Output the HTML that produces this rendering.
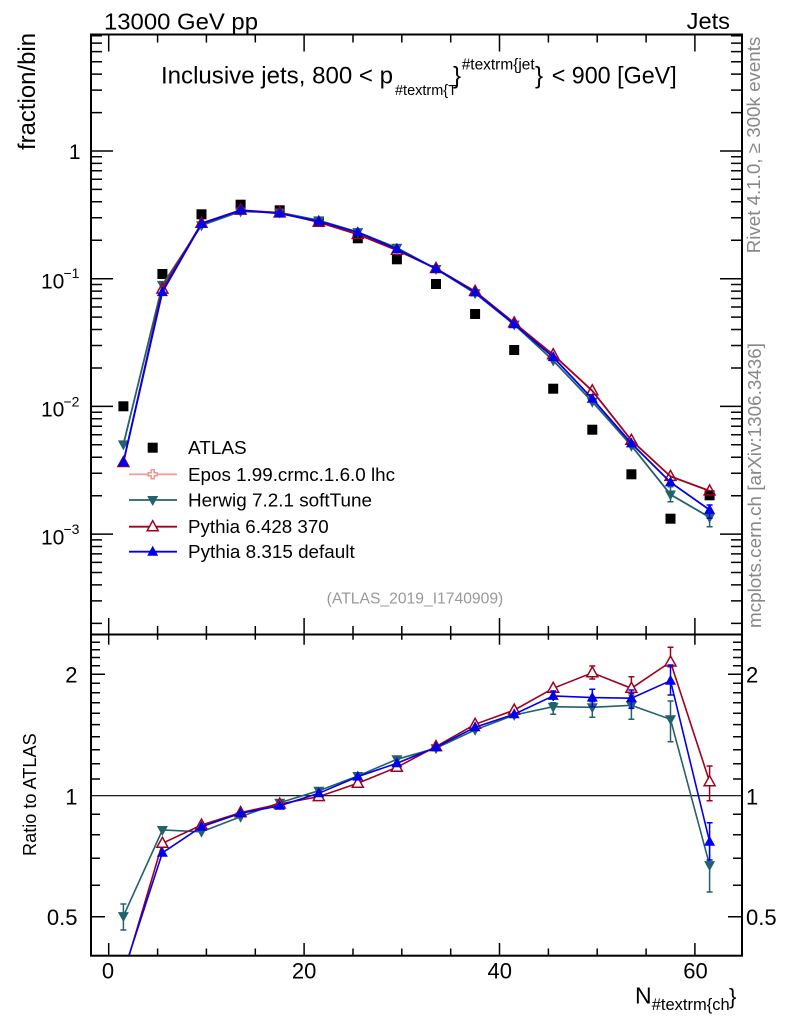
<!DOCTYPE html>
<html><head><meta charset="utf-8"><style>
html,body{margin:0;padding:0;background:#fff;}
svg{display:block;}
text{font-family:"Liberation Sans",Arial,Helvetica,sans-serif;}
</style></head><body>
<svg width="786" height="1024" viewBox="0 0 786 1024" xmlns="http://www.w3.org/2000/svg">
<rect x="0" y="0" width="786" height="1024" fill="#fff"/>
<defs>
<clipPath id="cm"><rect x="91" y="34.5" width="651" height="599.5"/></clipPath>
<clipPath id="cr"><rect x="91" y="634.7" width="651" height="321"/></clipPath>
<path id="tu" d="M-5.5,4 L5.5,4 L0,-6 Z"/>
<path id="td" d="M-5.5,-4 L5.5,-4 L0,6 Z"/>
<rect id="sq" x="-5" y="-5" width="10" height="10"/>
</defs>

<!-- top labels -->
<text x="104" y="29.3" font-size="23.5" textLength="154" lengthAdjust="spacingAndGlyphs">13000 GeV pp</text>
<text x="686.7" y="29" font-size="23.5" textLength="43.3" lengthAdjust="spacingAndGlyphs">Jets</text>

<!-- title -->
<text x="161" y="83.3" font-size="24" textLength="232" lengthAdjust="spacingAndGlyphs">Inclusive jets, 800 &lt; p</text>
<text x="395" y="95" font-size="15" textLength="62" lengthAdjust="spacingAndGlyphs">#textrm{T</text>
<text x="453" y="83.3" font-size="24">}</text>
<text x="461.7" y="69.5" font-size="15.5" textLength="73" lengthAdjust="spacingAndGlyphs">#textrm{jet</text>
<text x="535" y="83.3" font-size="24">}</text>
<text x="551.7" y="83.3" font-size="24" textLength="125" lengthAdjust="spacingAndGlyphs">&lt; 900 [GeV]</text>

<!-- axis titles -->
<text transform="translate(35,150) rotate(-90)" font-size="24" textLength="117" lengthAdjust="spacingAndGlyphs">fraction/bin</text>
<text transform="translate(36,856) rotate(-90)" font-size="18" textLength="122.7" lengthAdjust="spacingAndGlyphs">Ratio to ATLAS</text>
<text x="635" y="1003.3" font-size="23">N</text>
<text x="651.7" y="1010" font-size="16.5" textLength="78" lengthAdjust="spacingAndGlyphs">#textrm{ch</text>
<text x="729" y="1004" font-size="22">}</text>

<!-- side gray texts -->
<text transform="translate(760,253.3) rotate(-90)" font-size="18.5" fill="#888" textLength="216.6" lengthAdjust="spacingAndGlyphs">Rivet 4.1.0, ≥ 300k events</text>
<text transform="translate(761,628) rotate(-90)" font-size="18.5" fill="#888" textLength="285" lengthAdjust="spacingAndGlyphs">mcplots.cern.ch [arXiv:1306.3436]</text>
<text x="326.7" y="603.5" font-size="15.5" fill="#999" textLength="176.6" lengthAdjust="spacingAndGlyphs">(ATLAS_2019_I1740909)</text>

<!-- main y tick labels -->
<text x="80.5" y="159" font-size="21" text-anchor="end">1</text>
<text x="41" y="288.3" font-size="21">10</text><text x="63.5" y="278" font-size="14">−1</text>
<text x="41" y="416.7" font-size="21">10</text><text x="63.5" y="406.5" font-size="14">−2</text>
<text x="41" y="544.4" font-size="21">10</text><text x="63.5" y="534.2" font-size="14">−3</text>

<!-- ratio y tick labels -->
<text x="77.5" y="682.7" font-size="22" text-anchor="end">2</text>
<text x="77.5" y="804.3" font-size="22" text-anchor="end">1</text>
<text x="77.5" y="925" font-size="22" text-anchor="end">0.5</text>
<text x="746" y="682.7" font-size="22">2</text>
<text x="746" y="804.3" font-size="22">1</text>
<text x="746" y="925" font-size="22">0.5</text>

<!-- x tick labels -->
<text x="108" y="978.5" font-size="22" text-anchor="middle">0</text>
<text x="304.1" y="978.5" font-size="22" text-anchor="middle">20</text>
<text x="499.8" y="978.5" font-size="22" text-anchor="middle">40</text>
<text x="695.5" y="978.5" font-size="22" text-anchor="middle">60</text>

<!-- ticks -->
<g stroke="#000" stroke-width="1.5" fill="none">
<path d="M91,151H113M91,278.7H113M91,406.4H113M91,534.1H113 M742,151H720M742,278.7H720M742,406.4H720M742,534.1H720"/>
<path d="M91,112.6H102M91,90.1H102M91,74.1H102M91,61.7H102M91,51.6H102M91,43.1H102M91,35.7H102
M91,240.3H102M91,217.8H102M91,201.8H102M91,189.4H102M91,179.3H102M91,170.8H102M91,163.4H102M91,156.8H102
M91,368H102M91,345.5H102M91,329.5H102M91,317.1H102M91,307H102M91,298.5H102M91,291.1H102M91,284.5H102
M91,495.7H102M91,473.2H102M91,457.2H102M91,444.8H102M91,434.7H102M91,426.2H102M91,418.8H102M91,412.2H102
M91,623.4H102M91,600.9H102M91,584.9H102M91,572.5H102M91,562.4H102M91,553.9H102M91,546.5H102M91,539.9H102"/>
<path d="M742,112.6H731M742,90.1H731M742,74.1H731M742,61.7H731M742,51.6H731M742,43.1H731M742,35.7H731
M742,240.3H731M742,217.8H731M742,201.8H731M742,189.4H731M742,179.3H731M742,170.8H731M742,163.4H731M742,156.8H731
M742,368H731M742,345.5H731M742,329.5H731M742,317.1H731M742,307H731M742,298.5H731M742,291.1H731M742,284.5H731
M742,495.7H731M742,473.2H731M742,457.2H731M742,444.8H731M742,434.7H731M742,426.2H731M742,418.8H731M742,412.2H731
M742,623.4H731M742,600.9H731M742,584.9H731M742,572.5H731M742,562.4H731M742,553.9H731M742,546.5H731M742,539.9H731"/>
<path d="M108.7,34.5V51.5M304.1,34.5V51.5M499.5,34.5V51.5M694.9,34.5V51.5
M157.6,34.5V42.5M206.4,34.5V42.5M255.3,34.5V42.5M353,34.5V42.5M401.8,34.5V42.5M450.7,34.5V42.5M548.4,34.5V42.5M597.2,34.5V42.5M646.1,34.5V42.5"/>
<path d="M108.7,634V618M304.1,634V618M499.5,634V618M694.9,634V618
M157.6,634V626M206.4,634V626M255.3,634V626M353,634V626M401.8,634V626M450.7,634V626M548.4,634V626M597.2,634V626M646.1,634V626"/>
<path d="M108.7,634.7V644.7M304.1,634.7V644.7M499.5,634.7V644.7M694.9,634.7V644.7
M157.6,634.7V639.7M206.4,634.7V639.7M255.3,634.7V639.7M353,634.7V639.7M401.8,634.7V639.7M450.7,634.7V639.7M548.4,634.7V639.7M597.2,634.7V639.7M646.1,634.7V639.7"/>
<path d="M108.7,955.7V943M304.1,955.7V943M499.5,955.7V943M694.9,955.7V943
M157.6,955.7V948.5M206.4,955.7V948.5M255.3,955.7V948.5M353,955.7V948.5M401.8,955.7V948.5M450.7,955.7V948.5M548.4,955.7V948.5M597.2,955.7V948.5M646.1,955.7V948.5"/>
<path d="M91,674.2H105M91,916.7H105M742,674.2H728M742,916.7H728"/>
<path d="M91,642.2H100M91,649.7H100M91,657.5H100M91,665.7H100M91,683.2H100M91,692.7H100M91,702.7H100M91,713.3H100M91,724.6H100M91,736.7H100M91,749.7H100M91,763.7H100M91,779H100M91,814.2H100M91,834.8H100M91,858.2H100M91,885.2H100
M742,642.2H733M742,649.7H733M742,657.5H733M742,665.7H733M742,683.2H733M742,692.7H733M742,702.7H733M742,713.3H733M742,724.6H733M742,736.7H733M742,749.7H733M742,763.7H733M742,779H733M742,814.2H733M742,834.8H733M742,858.2H733M742,885.2H733"/>
</g>

<!-- ratio unity line -->
<line x1="91" y1="795.7" x2="742" y2="795.7" stroke="#000" stroke-width="1.2"/>

<!-- MAIN PANEL DATA -->
<g clip-path="url(#cm)">
<g fill="#000">
<use href="#sq" x="123.4" y="406.3"/><use href="#sq" x="162.4" y="274"/><use href="#sq" x="201.5" y="214.3"/><use href="#sq" x="240.6" y="204.7"/>
<use href="#sq" x="279.7" y="210.3"/><use href="#sq" x="318.8" y="222"/><use href="#sq" x="357.8" y="238.3"/><use href="#sq" x="396.9" y="259.3"/>
<use href="#sq" x="436" y="284"/><use href="#sq" x="475.1" y="314"/><use href="#sq" x="514.2" y="350"/><use href="#sq" x="553.2" y="388.7"/>
<use href="#sq" x="592.3" y="429.7"/><use href="#sq" x="631.4" y="474.3"/><use href="#sq" x="670.5" y="518.7"/><use href="#sq" x="709.6" y="495.3"/>
</g>
<polyline fill="none" stroke="#22626a" stroke-width="1.8" points="123.4,444.4 162.4,284.9 201.5,225.4 240.6,211.4 279.7,212.5 318.8,220.4 357.8,232.1 396.9,247.8 436,269 475.1,293.2 514.2,324.5 553.2,360.5 592.3,401.7 631.4,445.7 670.5,494.5 709.6,517.3"/>
<path stroke="#22626a" stroke-width="1.5" d="M670.5,486.7V501.7M667.5,486.7H673.5M667.5,501.7H673.5M709.6,511.7V526.7M706.6,511.7H712.6M706.6,526.7H712.6"/>
<g fill="#22626a">
<use href="#td" x="123.4" y="444.4"/><use href="#td" x="162.4" y="284.9"/><use href="#td" x="201.5" y="225.4"/><use href="#td" x="240.6" y="211.4"/>
<use href="#td" x="279.7" y="212.5"/><use href="#td" x="318.8" y="220.4"/><use href="#td" x="357.8" y="232.1"/><use href="#td" x="396.9" y="247.8"/>
<use href="#td" x="436" y="269"/><use href="#td" x="475.1" y="293.2"/><use href="#td" x="514.2" y="324.5"/><use href="#td" x="553.2" y="360.5"/>
<use href="#td" x="592.3" y="401.7"/><use href="#td" x="631.4" y="445.7"/><use href="#td" x="670.5" y="494.5"/><use href="#td" x="709.6" y="517.3"/>
</g>
<polyline fill="none" stroke="#a0001e" stroke-width="1.8" points="123.4,462.5 162.4,289.1 201.5,223.3 240.6,210.1 279.7,212.9 318.8,222.3 357.8,234.4 396.9,250.3 436,268.5 475.1,291.4 514.2,322.9 553.2,354.7 592.3,390.8 631.4,440.3 670.5,476.4 709.6,490.9"/>
<g fill="none" stroke="#a0001e" stroke-width="1.5">
<use href="#tu" x="123.4" y="462.5"/><use href="#tu" x="162.4" y="289.1"/><use href="#tu" x="201.5" y="223.3"/><use href="#tu" x="240.6" y="210.1"/>
<use href="#tu" x="279.7" y="212.9"/><use href="#tu" x="318.8" y="222.3"/><use href="#tu" x="357.8" y="234.4"/><use href="#tu" x="396.9" y="250.3"/>
<use href="#tu" x="436" y="268.5"/><use href="#tu" x="475.1" y="291.4"/><use href="#tu" x="514.2" y="322.9"/><use href="#tu" x="553.2" y="354.7"/>
<use href="#tu" x="592.3" y="390.8"/><use href="#tu" x="631.4" y="440.3"/><use href="#tu" x="670.5" y="476.4"/><use href="#tu" x="709.6" y="490.9"/>
</g>
<polyline fill="none" stroke="#0000ee" stroke-width="1.8" points="123.4,462.2 162.4,292.1 201.5,223.8 240.6,210.3 279.7,213.5 318.8,221.2 357.8,232.3 396.9,249 436,268.7 475.1,292.4 514.2,324.2 553.2,357.1 592.3,398.7 631.4,443.4 670.5,482.3 709.6,509.9"/>
<path stroke="#0000ee" stroke-width="1.5" d="M709.6,505V518.3M706.6,505H712.6M706.6,518.3H712.6"/>
<g fill="#0000ee">
<use href="#tu" x="123.4" y="462.2"/><use href="#tu" x="162.4" y="292.1"/><use href="#tu" x="201.5" y="223.8"/><use href="#tu" x="240.6" y="210.3"/>
<use href="#tu" x="279.7" y="213.5"/><use href="#tu" x="318.8" y="221.2"/><use href="#tu" x="357.8" y="232.3"/><use href="#tu" x="396.9" y="249"/>
<use href="#tu" x="436" y="268.7"/><use href="#tu" x="475.1" y="292.4"/><use href="#tu" x="514.2" y="324.2"/><use href="#tu" x="553.2" y="357.1"/>
<use href="#tu" x="592.3" y="398.7"/><use href="#tu" x="631.4" y="443.4"/><use href="#tu" x="670.5" y="482.3"/><use href="#tu" x="709.6" y="509.9"/>
</g>
</g>

<!-- LEGEND -->
<use href="#sq" x="152.7" y="447.7" fill="#000"/>
<text x="188" y="454.2" font-size="18.5" textLength="58.7" lengthAdjust="spacingAndGlyphs">ATLAS</text>
<line x1="129" y1="474.3" x2="177" y2="474.3" stroke="#f4a0a0" stroke-width="1.8"/>
<path d="M151.2,469.8h3v3h3v3h-3v3h-3v-3h-3v-3h3z" fill="#fff" stroke="#f08888" stroke-width="1.3"/>
<text x="188" y="480.8" font-size="18.5" textLength="207" lengthAdjust="spacingAndGlyphs">Epos 1.99.crmc.1.6.0 lhc</text>
<line x1="129" y1="500" x2="177" y2="500" stroke="#22626a" stroke-width="1.8"/>
<use href="#td" x="152.7" y="500" fill="#22626a"/>
<text x="188" y="506.5" font-size="18.5" textLength="184" lengthAdjust="spacingAndGlyphs">Herwig 7.2.1 softTune</text>
<line x1="129" y1="526.7" x2="177" y2="526.7" stroke="#a0001e" stroke-width="1.8"/>
<use href="#tu" x="152.7" y="526.7" fill="#fff" stroke="#a0001e" stroke-width="1.5"/>
<text x="188" y="533.2" font-size="18.5" textLength="140.7" lengthAdjust="spacingAndGlyphs">Pythia 6.428 370</text>
<line x1="129" y1="551.7" x2="177" y2="551.7" stroke="#0000ee" stroke-width="1.8"/>
<use href="#tu" x="152.7" y="551.7" fill="#0000ee"/>
<text x="188" y="558.2" font-size="18.5" textLength="166.7" lengthAdjust="spacingAndGlyphs">Pythia 8.315 default</text>

<!-- RATIO PANEL DATA -->
<g clip-path="url(#cr)">
<polyline fill="none" stroke="#22626a" stroke-width="1.6" points="123.4,916.1 162.4,830 201.5,831.8 240.6,816.7 279.7,802.7 318.8,790.7 357.8,776 396.9,759.3 436,748.2 475.1,729.9 514.2,715 553.2,706.7 592.3,707.3 631.4,705.3 670.5,719.3 709.6,865.1"/>
<path stroke="#22626a" stroke-width="1.5" fill="none" d="M123.4,904V930M120.4,904H126.4M120.4,930H126.4
M553.2,702.7V714.3M550.2,702.7H556.2M550.2,714.3H556.2
M592.3,701.7V717.3M589.3,701.7H595.3M589.3,717.3H595.3
M631.4,695V719.3M628.4,695H634.4M628.4,719.3H634.4
M670.5,701V741.7M667.5,701H673.5M667.5,741.7H673.5
M709.6,843V892M706.6,892H712.6"/>
<g fill="#22626a">
<use href="#td" x="123.4" y="916.1"/><use href="#td" x="162.4" y="830"/><use href="#td" x="201.5" y="831.8"/><use href="#td" x="240.6" y="816.7"/>
<use href="#td" x="279.7" y="802.7"/><use href="#td" x="318.8" y="790.7"/><use href="#td" x="357.8" y="776"/><use href="#td" x="396.9" y="759.3"/>
<use href="#td" x="436" y="748.2"/><use href="#td" x="475.1" y="729.9"/><use href="#td" x="514.2" y="715"/><use href="#td" x="553.2" y="706.7"/>
<use href="#td" x="592.3" y="707.3"/><use href="#td" x="631.4" y="705.3"/><use href="#td" x="670.5" y="719.3"/><use href="#td" x="709.6" y="865.1"/>
</g>
<polyline fill="none" stroke="#a0001e" stroke-width="1.6" points="123.4,974.8 162.4,843.3 201.5,825 240.6,812.6 279.7,804 318.8,796.6 357.8,783.3 396.9,767.3 436,746.6 475.1,724.3 514.2,710.1 553.2,688.3 592.3,672.8 631.4,688.3 670.5,662 709.6,781.7"/>
<path stroke="#a0001e" stroke-width="1.5" fill="none" d="M592.3,666V679M589.3,666H595.3M589.3,679H595.3
M631.4,676.7V693.3M628.4,676.7H634.4M628.4,693.3H634.4
M670.5,647.3V666.7M667.5,647.3H673.5M667.5,666.7H673.5
M709.6,766V800.7M706.6,766H712.6M706.6,800.7H712.6"/>
<g fill="#fff" stroke="#a0001e" stroke-width="1.5">
<use href="#tu" x="162.4" y="843.3"/><use href="#tu" x="201.5" y="825"/><use href="#tu" x="240.6" y="812.6"/>
<use href="#tu" x="279.7" y="804"/><use href="#tu" x="318.8" y="796.6"/><use href="#tu" x="357.8" y="783.3"/><use href="#tu" x="396.9" y="767.3"/>
<use href="#tu" x="436" y="746.6"/><use href="#tu" x="475.1" y="724.3"/><use href="#tu" x="514.2" y="710.1"/><use href="#tu" x="553.2" y="688.3"/>
<use href="#tu" x="592.3" y="672.8"/><use href="#tu" x="631.4" y="688.3"/><use href="#tu" x="670.5" y="662"/><use href="#tu" x="709.6" y="781.7"/>
</g>
<polyline fill="none" stroke="#0000ee" stroke-width="1.6" points="123.4,972.4 162.4,852.8 201.5,826.7 240.6,813.3 279.7,805.8 318.8,793.3 357.8,776.6 396.9,763.3 436,747.3 475.1,727.3 514.2,714.2 553.2,695.9 592.3,697.6 631.4,698.2 670.5,680.7 709.6,841.7"/>
<path stroke="#0000ee" stroke-width="1.5" fill="none" d="M553.2,691V701M550.2,691H556.2
M592.3,689.3V706.7M589.3,689.3H595.3M589.3,706.7H595.3
M631.4,690V708.3M628.4,690H634.4M628.4,708.3H634.4
M670.5,665V695M667.5,665H673.5M667.5,695H673.5
M709.6,822.7V860M706.6,822.7H712.6M706.6,860H712.6"/>
<g fill="#0000ee">
<use href="#tu" x="162.4" y="852.8"/><use href="#tu" x="201.5" y="826.7"/><use href="#tu" x="240.6" y="813.3"/>
<use href="#tu" x="279.7" y="805.8"/><use href="#tu" x="318.8" y="793.3"/><use href="#tu" x="357.8" y="776.6"/><use href="#tu" x="396.9" y="763.3"/>
<use href="#tu" x="436" y="747.3"/><use href="#tu" x="475.1" y="727.3"/><use href="#tu" x="514.2" y="714.2"/><use href="#tu" x="553.2" y="695.9"/>
<use href="#tu" x="592.3" y="697.6"/><use href="#tu" x="631.4" y="698.2"/><use href="#tu" x="670.5" y="680.7"/><use href="#tu" x="709.6" y="841.7"/>
</g>
</g>

<!-- frames -->
<g fill="none" stroke="#000" stroke-width="2">
<rect x="91" y="34.5" width="651" height="600"/>
<rect x="91" y="634.5" width="651" height="321.2"/>
</g>
</svg>
</body></html>
